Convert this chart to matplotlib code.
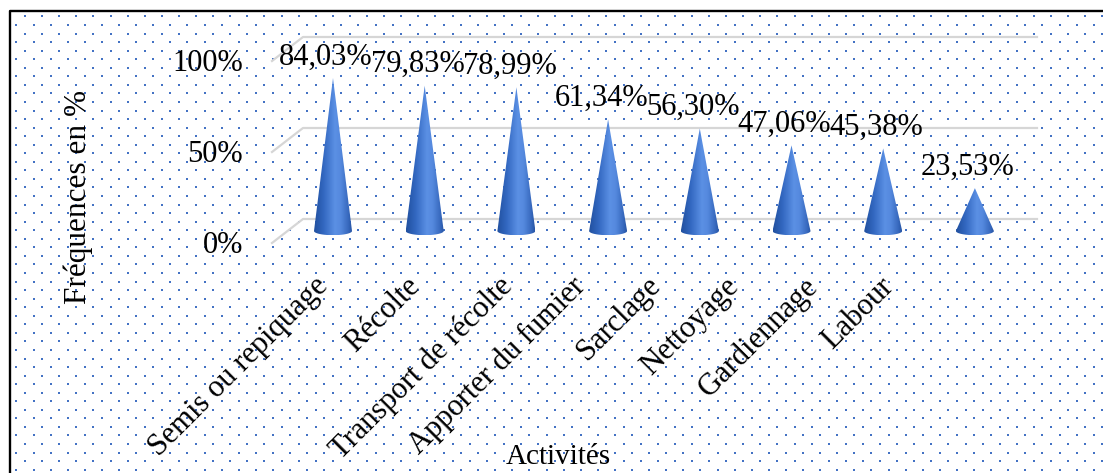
import numpy as np
import matplotlib.pyplot as plt
from matplotlib.colors import LinearSegmentedColormap
from matplotlib.path import Path
from matplotlib.patches import PathPatch

# Données
activites = ['Semis ou repiquage', 'Récolte', 'Transport de récolte',
             'Apporter du fumier', 'Sarclage', 'Nettoyage', 'Gardiennage', 'Labour']
frequences = [84.03, 79.83, 78.99, 61.34, 56.30, 47.06, 45.38, 23.53]
graduations = [0, 50, 100]

# Mise en page (pixels)
W, H = 1103, 473
X0, DX = 333.0, 91.7     # position du premier cône, pas entre cônes
Y0, DY = 231.0, 1.82     # base des cônes, pixels par %
label_shift = [-10, -10, -9, -28, -45, -58, -71, -87]  # fin des étiquettes / cône

plt.rcParams['font.family'] = ['Liberation Serif', 'DejaVu Serif']
FS = 22

fig = plt.figure(figsize=(W / 100, H / 100), dpi=100)

# fond pointillé + cadre
bg = fig.add_axes([0, 0, 1, 1])
bg.set_xlim(0, W)
bg.set_ylim(H, 0)
bg.axis('off')
pas = 17.1
for k, yy in enumerate(np.arange(16.5, H + 5, pas / 2)):
    xs = np.arange(25 - (pas / 2) * (k % 2), W + 5, pas)
    xs = xs[xs > 12]
    bg.scatter(xs, np.full(len(xs), yy), s=4, marker='s', color='#4472c4',
               linewidths=0)
bg.plot([10, 10, W + 5], [H + 5, 11, 11], color='black', lw=1.7,
        solid_capstyle='projecting')

# axe principal en unités de données
ax = fig.add_axes([0, 0, 1, 1], facecolor='none')
ax.axis('off')
xlim = (-X0 / DX, (W - X0) / DX)
ylim = ((Y0 - H) / DY, Y0 / DY)

# quadrillage du fond 3D
prof = 12 / DY
x_av, x_ar, x_fin = (272 - X0) / DX, (303 - X0) / DX, (1037 - X0) / DX
for g in graduations:
    ax.plot([x_av, x_ar, x_fin], [g - prof, g + prof, g + prof],
            color='#d6d6d6', lw=1.6, zorder=1)
    ax.text((243 - X0) / DX, g - 7.8, f'{g}%', ha='right', va='center',
            fontsize=FS)

# cônes avec dégradé
cmap = LinearSegmentedColormap.from_list('cone', [
    (0.0, '#21509f'), (0.25, '#3267c0'), (0.55, '#5b90e4'),
    (0.7, '#5589de'), (0.9, '#386abf'), (1.0, '#2754a4')])
grad = np.linspace(0, 1, 256)[None, :]
hw, bh = 19 / DX, 4.2 / DY
t = np.linspace(0, np.pi, 40)
for i, v in enumerate(frequences):
    pts = [(i, v), (i + hw, 0)]
    pts += [(i + hw * np.cos(a), -bh * np.sin(a)) for a in t]
    pts += [(i, v)]
    codes = [Path.MOVETO] + [Path.LINETO] * (len(pts) - 2) + [Path.CLOSEPOLY]
    patch = PathPatch(Path(pts, codes), facecolor='none', edgecolor='none')
    ax.add_patch(patch)
    im = ax.imshow(grad, cmap=cmap, aspect='auto', zorder=3,
                   extent=[i - hw, i + hw, -bh, v], interpolation='bilinear')
    im.set_clip_path(patch)
    ax.text(i - 7 / DX, v + 7.4, f'{v:.2f}%'.replace('.', ','),
            ha='center', va='baseline', fontsize=FS, zorder=4)

# étiquettes des catégories
for i, nom in enumerate(activites):
    xe = i + (label_shift[i] + 1) / DX
    ax.text(xe, (Y0 - 282) / DY, nom, rotation=45, rotation_mode='anchor',
            ha='right', va='center', fontsize=FS)

ax.text((78 - X0) / DX, (Y0 - 197) / DY, 'Fréquences en %', rotation=90,
        ha='center', va='center', fontsize=FS + 0.5)
ax.text((558 - X0) / DX, (Y0 - 457) / DY, 'Activités', ha='center',
        va='center', fontsize=FS - 1)

ax.set_xlim(*xlim)
ax.set_ylim(*ylim)

fig.savefig('out.png', dpi=100)
